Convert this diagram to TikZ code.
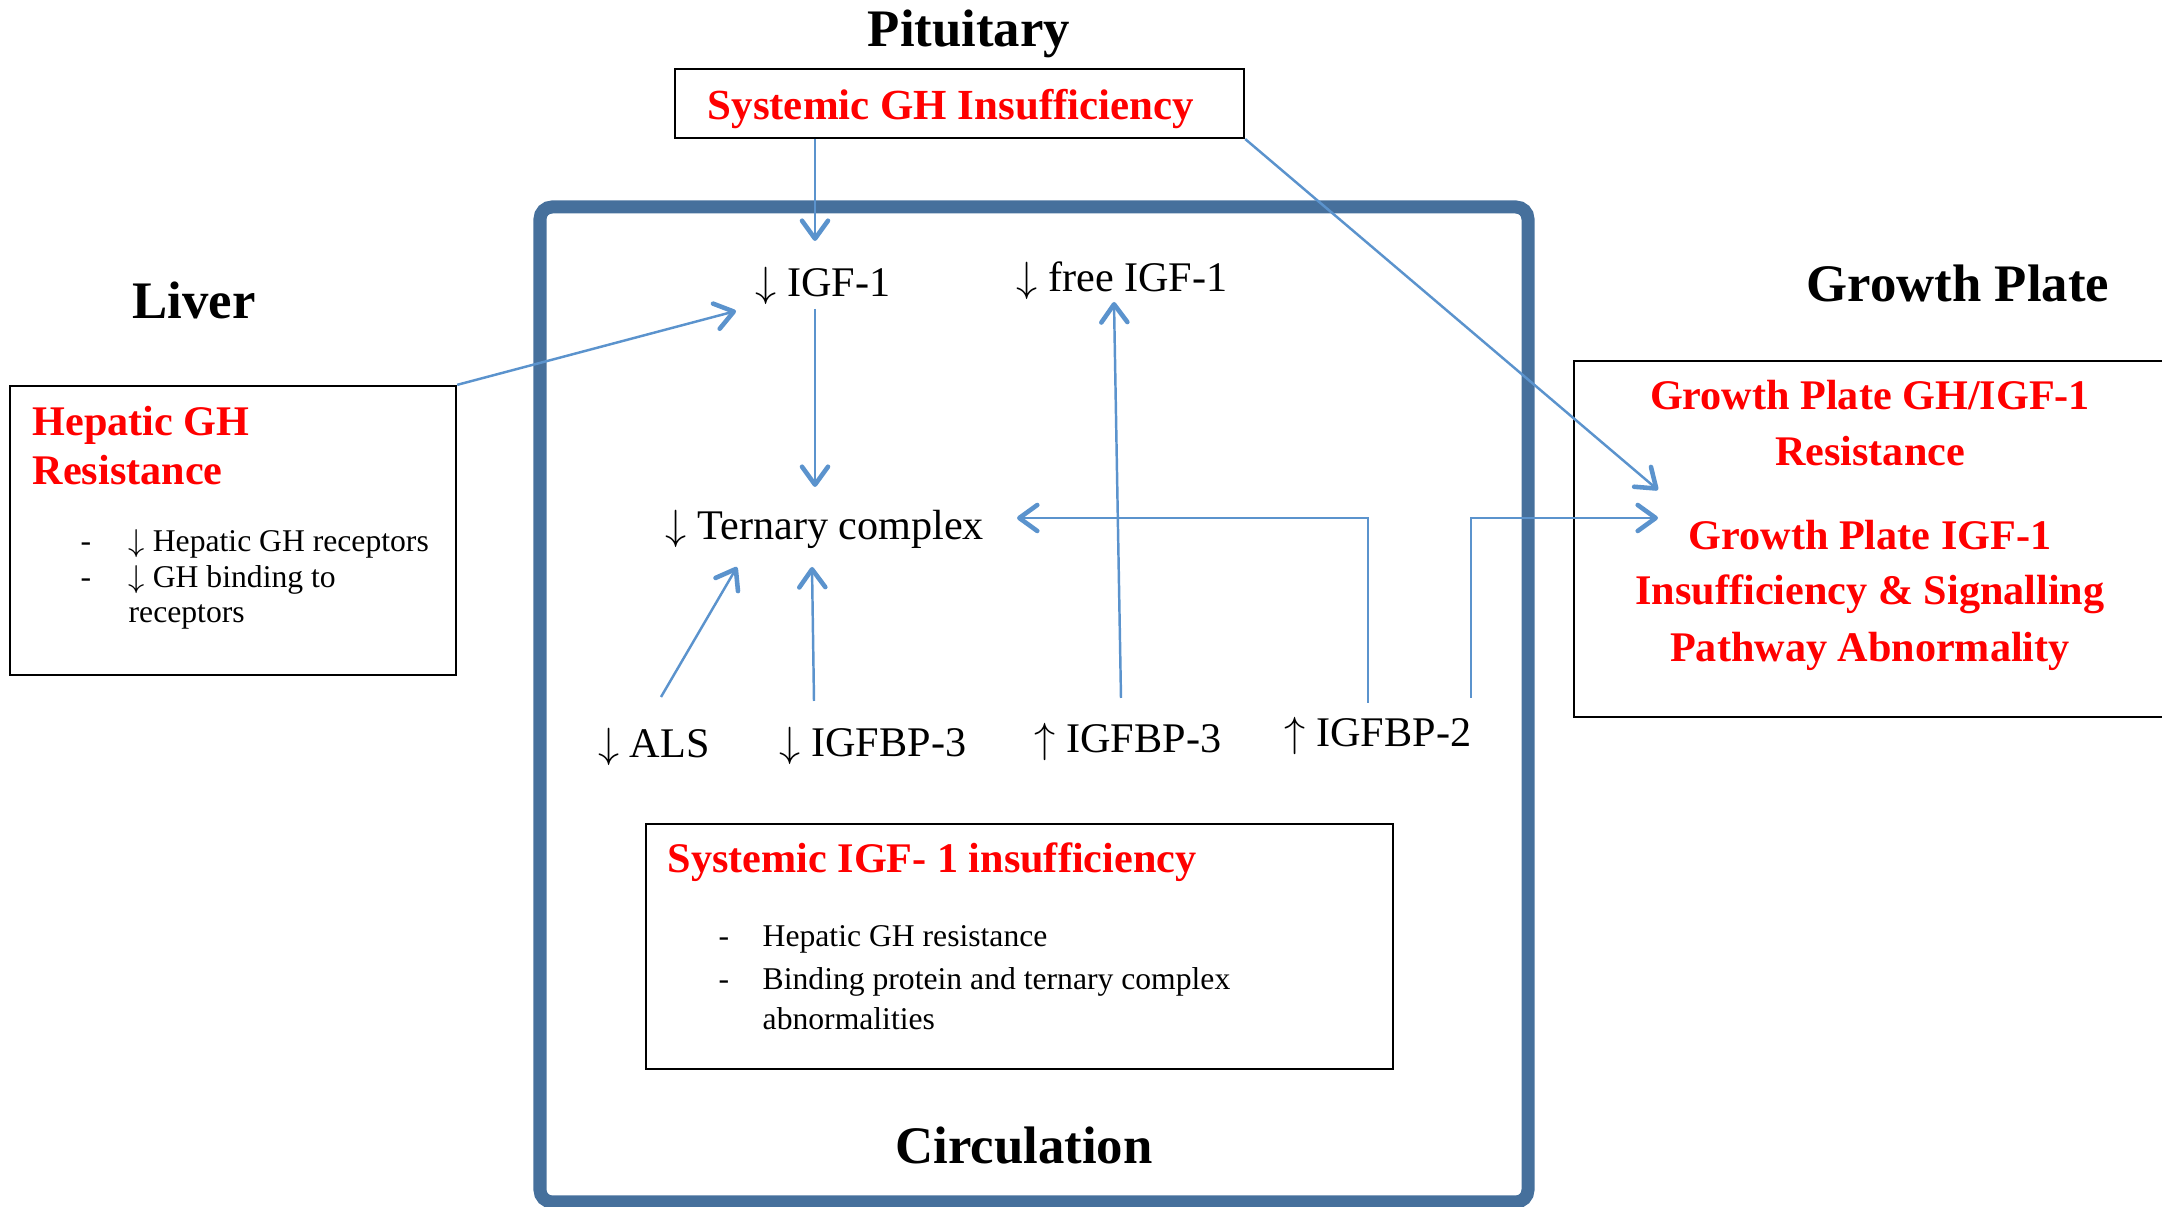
\documentclass[tikz,border=0pt]{standalone}
\usepackage{fontspec}
\setmainfont{Liberation Serif}
\usetikzlibrary{arrows.meta}
\definecolor{circblue}{RGB}{70,112,156}
\definecolor{flowblue}{RGB}{91,147,205}

\begin{document}
\begin{tikzpicture}
[x=0.01cm,y=-0.01cm,>={Straight Barb[length=1.8mm,width=2.6mm,line width=1.3pt,round]},
 box/.style={draw,line width=0.6pt,inner sep=0pt},
 hdr/.style={font=\fontsize{15}{18}\selectfont\bfseries,inner sep=0pt,anchor=base},
 rtitle/.style={font=\fontsize{12}{14}\selectfont\bfseries,text=red,inner sep=0pt},
 lbl/.style={font=\fontsize{12}{14}\selectfont,inner sep=0pt,anchor=base},
 item/.style={font=\fontsize{9}{11}\selectfont,inner sep=0pt,anchor=base west},
 flow/.style={->,draw=flowblue,line width=0.7pt}]

\useasboundingbox (0,0) rectangle (2162,1207);

% the coordinates of the arrow ends
\coordinate (igfin) at (815,241);
\coordinate (igfleft) at (736,311);
\coordinate (igfout) at (815,309);
\coordinate (terntop) at (815,487);
\coordinate (ternright) at (1017,518);
\coordinate (ternals) at (737,567);
\coordinate (ternbp) at (812,567);
\coordinate (freein) at (1114,302);
\coordinate (alsout) at (661,697);
\coordinate (dbpout) at (814,701);
\coordinate (ubpout) at (1121,698);
\coordinate (bp2out) at (1368,703);
\coordinate (bp2b) at (1471,698);
\coordinate (gpin1) at (1658,490);
\coordinate (gpin2) at (1658,518);

% the circulation frame
\draw[circblue,line width=0.13cm,rounded corners=0.12cm] (540,207) rectangle (1528,1202);

% the boxes
\node[box,minimum width=5.69cm,minimum height=0.69cm] (ghbox) at (959.5,103.5) {};
\node[box,minimum width=4.46cm,minimum height=2.89cm] (livbox) at (233,530.5) {};
\node[box,minimum width=6.01cm,minimum height=3.56cm] (gpbox) at (1874.5,539) {};
\node[box,minimum width=7.47cm,minimum height=2.45cm] (sysbox) at (1019.5,946.5) {};

% the headings
\node[hdr] (pit) at (969,47) {Pituitary};
\node[hdr] (liv) at (194,319) {Liver};
\node[hdr] (gp) at (1958,302) {Growth Plate};
\node[hdr] (circ) at (1024,1164) {Circulation};

% pituitary box
\node[rtitle,font=\fontsize{12.2}{15}\selectfont\bfseries,anchor=base west] (ghtxt) at (707,120) {Systemic GH Insufficiency};

% liver box
\node[rtitle,anchor=base west] (livt1) at (32,436) {Hepatic GH};
\node[rtitle,anchor=base west] (livt2) at (32,485) {Resistance};
\node[item] (livd1) at (80,552) {-};
\node[item] (livi1) at (128,552) {$\downarrow$ Hepatic GH receptors};
\node[item] (livd2) at (80,588) {-};
\node[item] (livi2) at (128,588) {$\downarrow$ GH binding to};
\node[item] (livi3) at (128,623) {receptors};

% growth plate box
\node[rtitle,anchor=base] (gpt1) at (1870,410) {Growth Plate GH/IGF-1};
\node[rtitle,anchor=base] (gpt2) at (1870,466) {Resistance};
\node[rtitle,anchor=base] (gpt3) at (1870,550) {Growth Plate IGF-1};
\node[rtitle,anchor=base] (gpt4) at (1870,605) {Insufficiency \& Signalling};
\node[rtitle,anchor=base] (gpt5) at (1870,662) {Pathway Abnormality};

% systemic IGF-1 box
\node[rtitle,anchor=base west] (syst) at (667,873) {Systemic IGF- 1 insufficiency};
\node[item] (sysd1) at (718,947) {-};
\node[item] (sysi1) at (762,947) {Hepatic GH resistance};
\node[item] (sysd2) at (718,990) {-};
\node[item] (sysi2) at (762,990) {Binding protein and ternary complex};
\node[item] (sysi3) at (762,1030) {abnormalities};

% circulation labels
\node[lbl] (igf) at (823,297) {$\downarrow$ IGF-1};
\node[lbl] (free) at (1122,292) {$\downarrow$ free IGF-1};
\node[lbl] (tern) at (825,540) {$\downarrow$ Ternary complex};
\node[lbl] (als) at (654,758) {$\downarrow$ ALS};
\node[lbl] (dbp3) at (873,757) {$\downarrow$ IGFBP-3};
\node[lbl] (ubp3) at (1128,753) {$\uparrow$ IGFBP-3};
\node[lbl] (ubp2) at (1378,747) {$\uparrow$ IGFBP-2};

% the arrows
\draw[flow] (ghbox.south -| igfin) -- (igfin);
\draw[flow] (livbox.north east) -- (igfleft);
\draw[flow] (igfout) -- (terntop);
\draw[flow] (ghbox.south east) -- (gpin1);
\draw[flow] (ubpout) -- (freein);
\draw[flow] (bp2out) -- (bp2out |- ternright) -- (ternright);
\draw[flow] (bp2b) -- (bp2b |- gpin2) -- (gpin2);
\draw[flow] (alsout) -- (ternals);
\draw[flow] (dbpout) -- (ternbp);

\end{tikzpicture}
\end{document}
